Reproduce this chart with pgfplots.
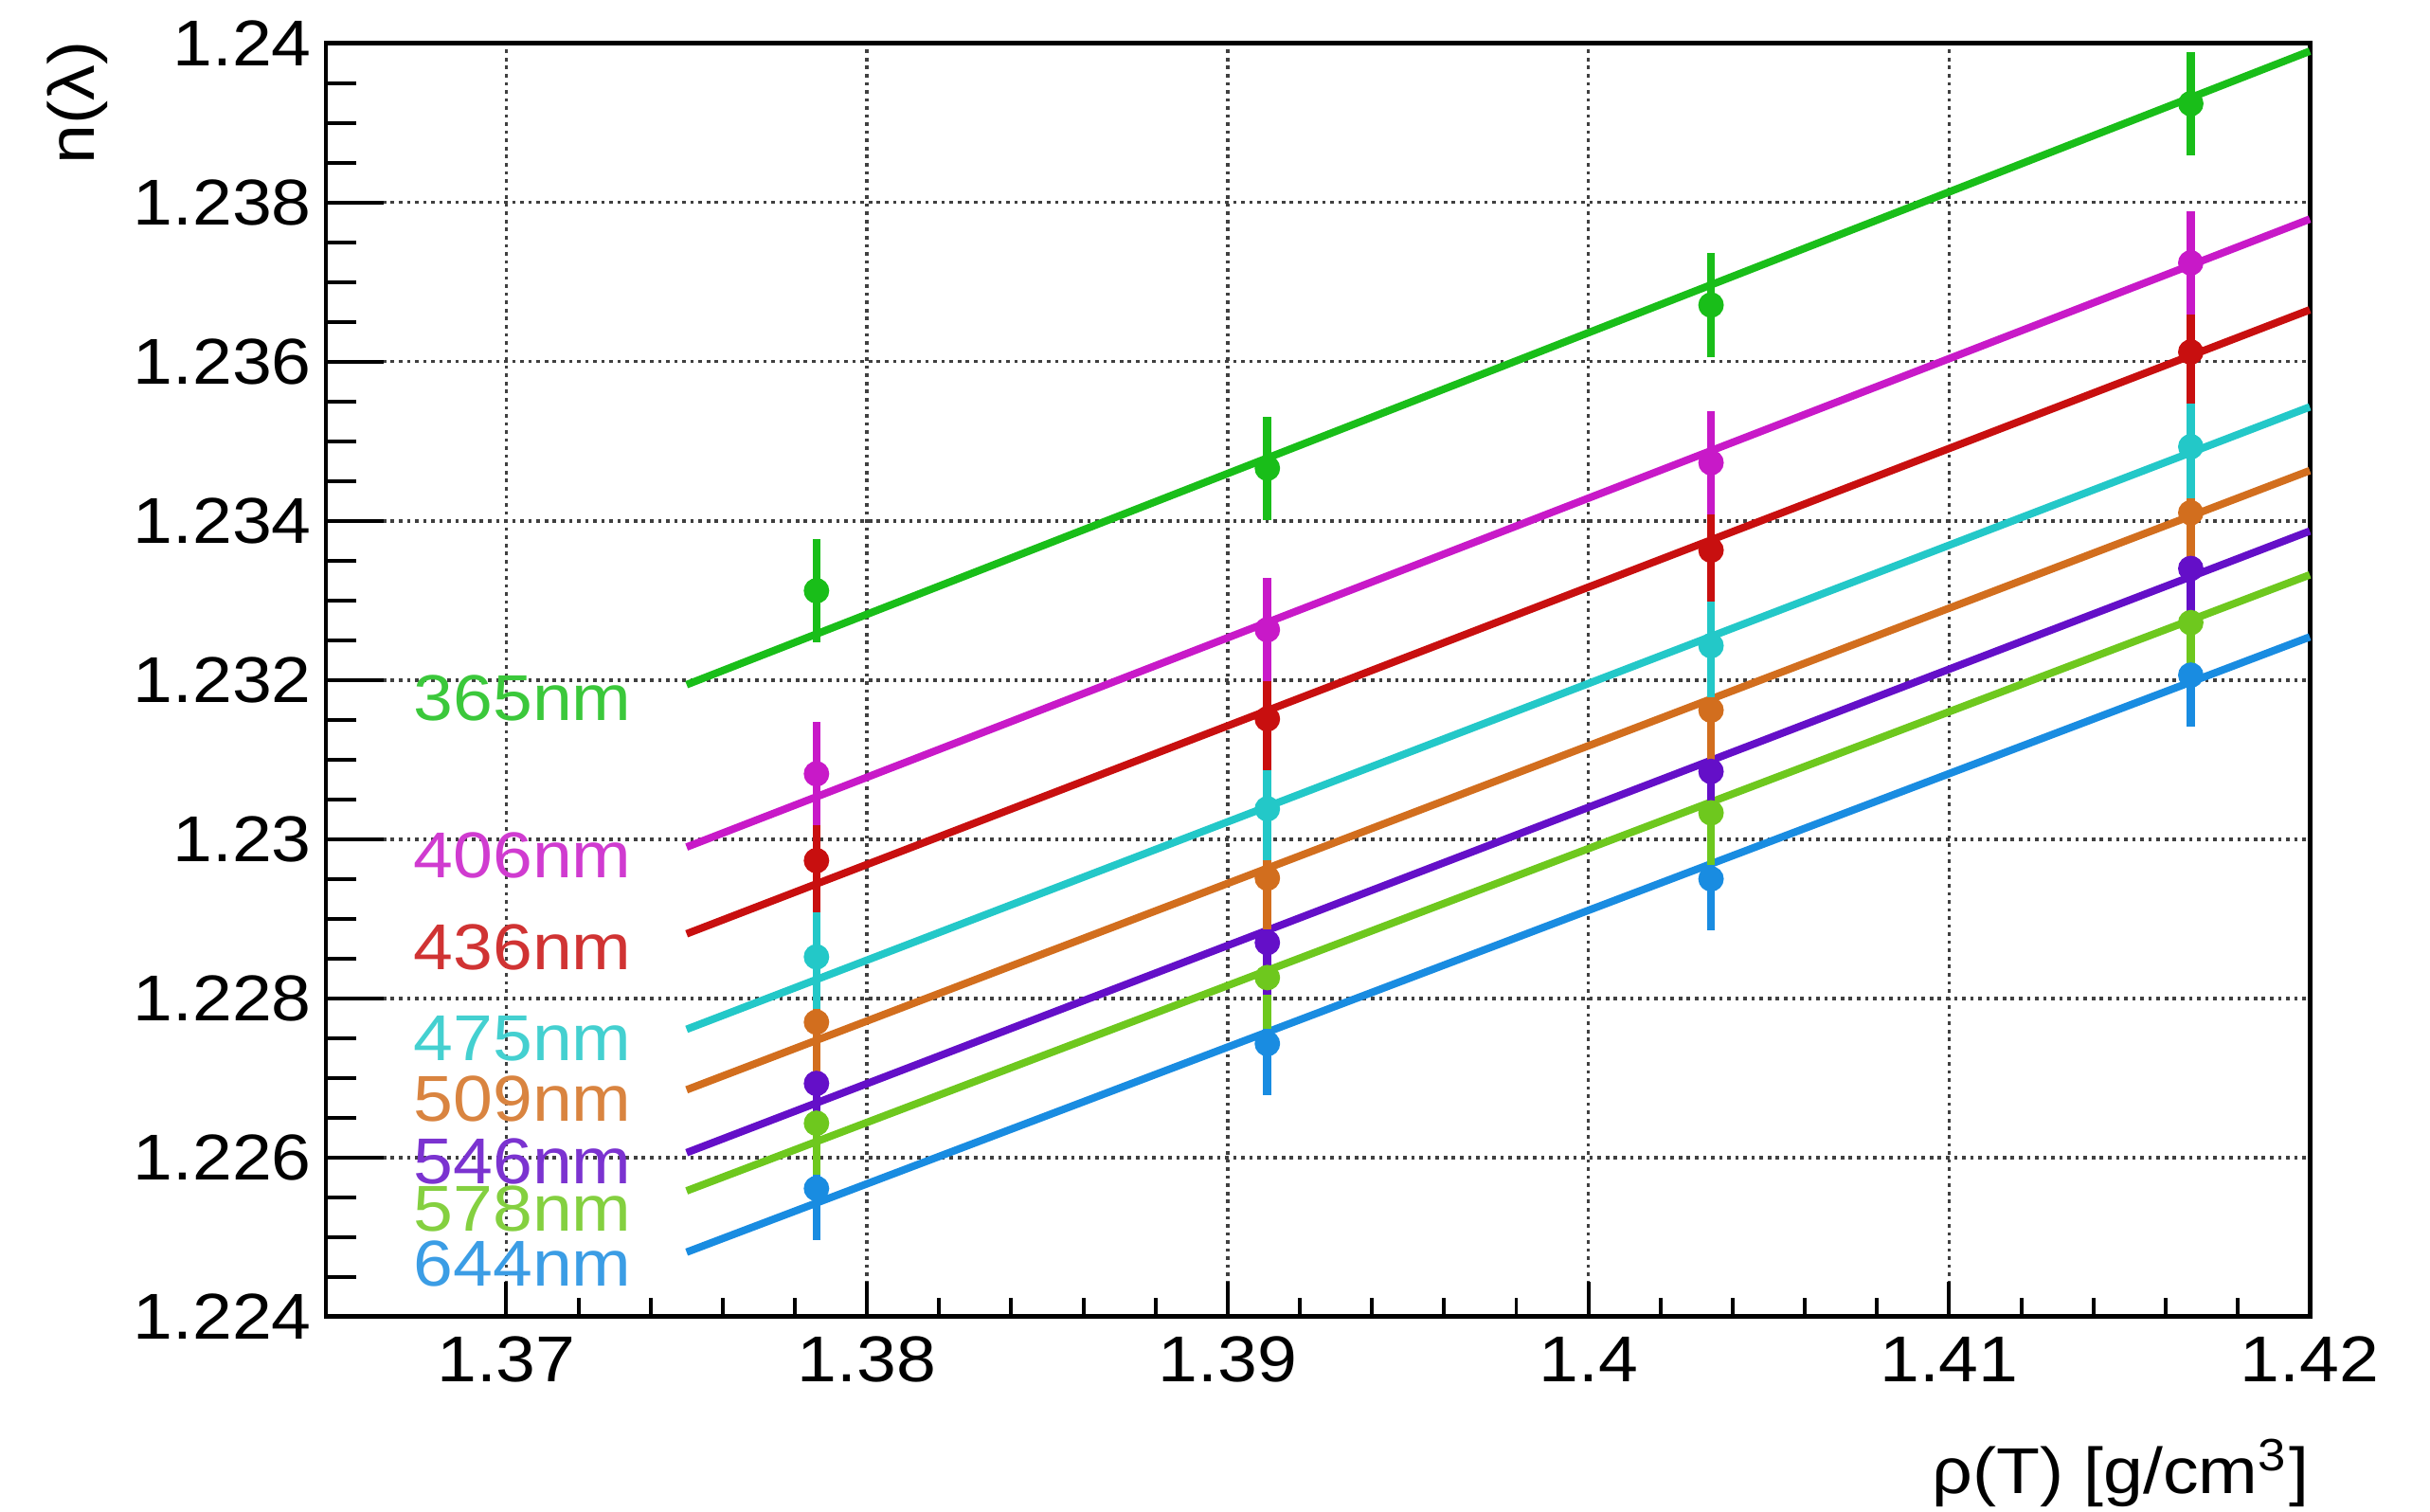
\documentclass[border=0pt]{standalone}
\usepackage{fontspec}
\setmainfont{Liberation Sans}[FakeStretch=1.1]
\usepackage{pgfplots}
\pgfplotsset{compat=1.18}
\definecolor{c365}{RGB}{25,190,25}
\definecolor{c406}{RGB}{200,25,200}
\definecolor{c436}{RGB}{200,15,15}
\definecolor{c475}{RGB}{35,200,200}
\definecolor{c509}{RGB}{210,110,30}
\definecolor{c546}{RGB}{100,15,200}
\definecolor{c578}{RGB}{110,200,30}
\definecolor{c644}{RGB}{25,140,225}
\pgfplotsset{
  pts/.style={#1, only marks, mark=*, mark size=2pt,
    error bars/.cd, y dir=both, y fixed=0.00065,
    error bar style={line width=1.4pt, #1}, error mark=none},
  fit/.style={#1, line width=1.3pt, no marks},
}
\begin{document}
\begin{tikzpicture}[font=\fontsize{11.2}{13.4}\selectfont]
\begin{axis}[
  name=ax, at={(0,0)}, anchor=south west,
  width=342.9pt, height=220.1pt, scale only axis,
  xmin=1.365, xmax=1.42, ymin=1.224, ymax=1.24,
  xtick={1.37,1.38,1.39,1.40,1.41,1.42},
  ytick={1.224,1.226,1.228,1.230,1.232,1.234,1.236,1.238,1.240},
  minor x tick num=4, minor y tick num=3,
  scaled ticks=false,
  /pgf/number format/.cd, fixed, precision=3, assume math mode=true, /pgfplots/.cd,
  tick align=inside, tick pos=left,
  axis line style={line width=0.8pt},
  tick style={line width=0.65pt, black},
  major y tick style={/pgfplots/major tick length=10pt},
  minor y tick style={/pgfplots/minor tick length=5.2pt},
  major x tick style={/pgfplots/major tick length=6pt},
  minor x tick style={/pgfplots/minor tick length=3.3pt},
  grid=major,
  major grid style={line width=0.6pt, dash pattern=on 0.6pt off 0.8pt, black!75},
  yticklabel style={inner sep=0pt}, yticklabel shift=2.3pt,
  xticklabel style={inner sep=0pt}, xticklabel shift=3.3pt,
  clip=false,
]
% 644 nm
\addplot[pts=c644] coordinates {(1.3786,1.22561) (1.3911,1.22743) (1.4034,1.22950) (1.4167,1.23206)};
\addplot[fit=c644] coordinates {(1.375,1.22481) (1.42,1.23254)};
% 578 nm
\addplot[pts=c578] coordinates {(1.3786,1.22643) (1.3911,1.22826) (1.4034,1.23033) (1.4167,1.23272)};
\addplot[fit=c578] coordinates {(1.375,1.22558) (1.42,1.23332)};
% 546 nm
\addplot[pts=c546] coordinates {(1.3786,1.22693) (1.3911,1.22870) (1.4034,1.23085) (1.4167,1.23340)};
\addplot[fit=c546] coordinates {(1.375,1.22606) (1.42,1.23387)};
% 509 nm
\addplot[pts=c509] coordinates {(1.3786,1.22770) (1.3911,1.22951) (1.4034,1.23162) (1.4167,1.23410)};
\addplot[fit=c509] coordinates {(1.375,1.22685) (1.42,1.23463)};
% 475 nm
\addplot[pts=c475] coordinates {(1.3786,1.22852) (1.3911,1.23038) (1.4034,1.23243) (1.4167,1.23493)};
\addplot[fit=c475] coordinates {(1.375,1.22761) (1.42,1.23543)};
% 436 nm
\addplot[pts=c436] coordinates {(1.3786,1.22973) (1.3911,1.23151) (1.4034,1.23363) (1.4167,1.23612)};
\addplot[fit=c436] coordinates {(1.375,1.22881) (1.42,1.23665)};
% 406 nm
\addplot[pts=c406] coordinates {(1.3786,1.23082) (1.3911,1.23263) (1.4034,1.23473) (1.4167,1.23724)};
\addplot[fit=c406] coordinates {(1.375,1.22990) (1.42,1.23779)};
% 365 nm
\addplot[pts=c365] coordinates {(1.3786,1.23312) (1.3911,1.23466) (1.4034,1.23671) (1.4167,1.23924)};
\addplot[fit=c365] coordinates {(1.375,1.23194) (1.42,1.23990)};

\node[anchor=west, inner sep=0pt, text=c365!85!white] at (axis cs:1.3674,1.23177) {365nm};
\node[anchor=west, inner sep=0pt, text=c406!85!white] at (axis cs:1.3674,1.22980) {406nm};
\node[anchor=west, inner sep=0pt, text=c436!85!white] at (axis cs:1.3674,1.22864) {436nm};
\node[anchor=west, inner sep=0pt, text=c475!85!white] at (axis cs:1.3674,1.22749) {475nm};
\node[anchor=west, inner sep=0pt, text=c509!85!white] at (axis cs:1.3674,1.22674) {509nm};
\node[anchor=west, inner sep=0pt, text=c546!85!white] at (axis cs:1.3674,1.22595) {546nm};
\node[anchor=west, inner sep=0pt, text=c578!85!white] at (axis cs:1.3674,1.22535) {578nm};
\node[anchor=west, inner sep=0pt, text=c644!85!white] at (axis cs:1.3674,1.22467) {644nm};

\node[anchor=base east, inner sep=0pt, yshift=-30.6pt] at (rel axis cs:1,0) {ρ(T) [g/cm\textsuperscript{3}]};
\end{axis}
\node[anchor=east, rotate=90, inner sep=0pt] at ([xshift=-42.9pt,yshift=0.5pt]ax.north west) {n(λ)};
\pgfresetboundingbox
\path (ax.south west) ++(-56.33pt,-33.73pt) rectangle ++(420pt,261.3pt);
\end{tikzpicture}
\end{document}
